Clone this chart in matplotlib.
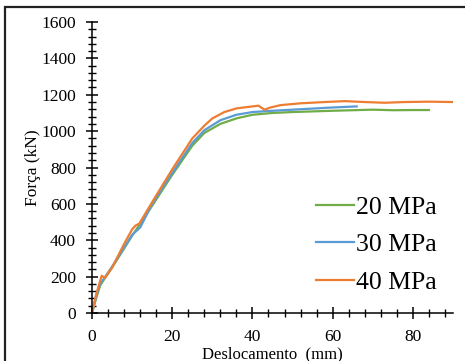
import matplotlib
matplotlib.use("Agg")
import matplotlib.pyplot as plt
from matplotlib.patches import Rectangle
from matplotlib.ticker import MultipleLocator

# leitura aproximada das curvas força x deslocamento
x_20 = [0, 1, 2, 3, 5, 10, 15, 20, 25, 28, 32, 36, 40, 45, 50, 60, 70, 75, 80, 84]
y_20 = [0, 80, 150, 185, 250, 425, 590, 760, 920, 990, 1040, 1070, 1090, 1100,
        1105, 1112, 1118, 1115, 1116, 1116]

x_30 = [0, 1, 2, 3, 5, 10, 12, 15, 20, 25, 28, 32, 36, 40, 45, 50, 55, 60, 66]
y_30 = [0, 90, 160, 190, 255, 430, 470, 600, 770, 935, 1005, 1060, 1090, 1105,
        1112, 1118, 1124, 1130, 1136]

x_40 = [0, 1, 2.4, 3.2, 5, 8, 10, 10.8, 11.8, 15, 20, 25, 28, 30, 33, 36, 40,
        41.5, 43, 44.5, 47, 52, 58, 63, 68, 73, 78, 84, 90]
y_40 = [0, 100, 205, 192, 250, 380, 460, 480, 492, 610, 790, 960, 1030, 1070,
        1105, 1125, 1136, 1140, 1118, 1130, 1143, 1153, 1160, 1165, 1160, 1156,
        1160, 1162, 1160]

labels = ["20 MPa", "30 MPa", "40 MPa"]
colors = ["#70ad47", "#5b9bd5", "#ed7d31"]

plt.rcParams["font.family"] = ["Liberation Serif", "DejaVu Serif"]

fig = plt.figure(figsize=(4.65, 3.61), dpi=100)
ax = fig.add_axes([0.198, 0.133, 0.776, 0.806])

for xs, ys, lab, c in zip([x_20, x_30, x_40], [y_20, y_30, y_40], labels, colors):
    ax.plot(xs, ys, color=c, lw=1.6, label=lab)

ax.set_xlim(0, 90)
ax.set_ylim(0, 1600)
ax.xaxis.set_major_locator(MultipleLocator(20))
ax.xaxis.set_minor_locator(MultipleLocator(4))
ax.yaxis.set_major_locator(MultipleLocator(200))
ax.yaxis.set_minor_locator(MultipleLocator(40))
ax.tick_params(which="major", direction="inout", length=9, width=1.1,
               labelsize=12.5)
ax.tick_params(axis="x", which="major", pad=7)
ax.tick_params(axis="y", which="major", pad=7)
ax.tick_params(which="minor", direction="inout", length=6, width=1.0)
for s in ["top", "right"]:
    ax.spines[s].set_visible(False)
for s in ["left", "bottom"]:
    ax.spines[s].set_linewidth(1.1)

ax.set_xlabel("Deslocamento  (mm)", fontsize=12, labelpad=1)
ax.set_ylabel("Força (kN)", fontsize=12.5, labelpad=0.5)

ax.legend(loc="center left", bbox_to_anchor=(0.62, 0.234), frameon=False,
          fontsize=18.5, handlelength=1.5, handletextpad=0.05, labelspacing=0.58,
          borderaxespad=0, borderpad=0)

# moldura da figura
fig.patches.append(Rectangle((0.011, -0.1), 1.2, 1.081, transform=fig.transFigure,
                             fill=False, edgecolor="#222222", lw=1.6))

fig.savefig("out.png", dpi=100)
